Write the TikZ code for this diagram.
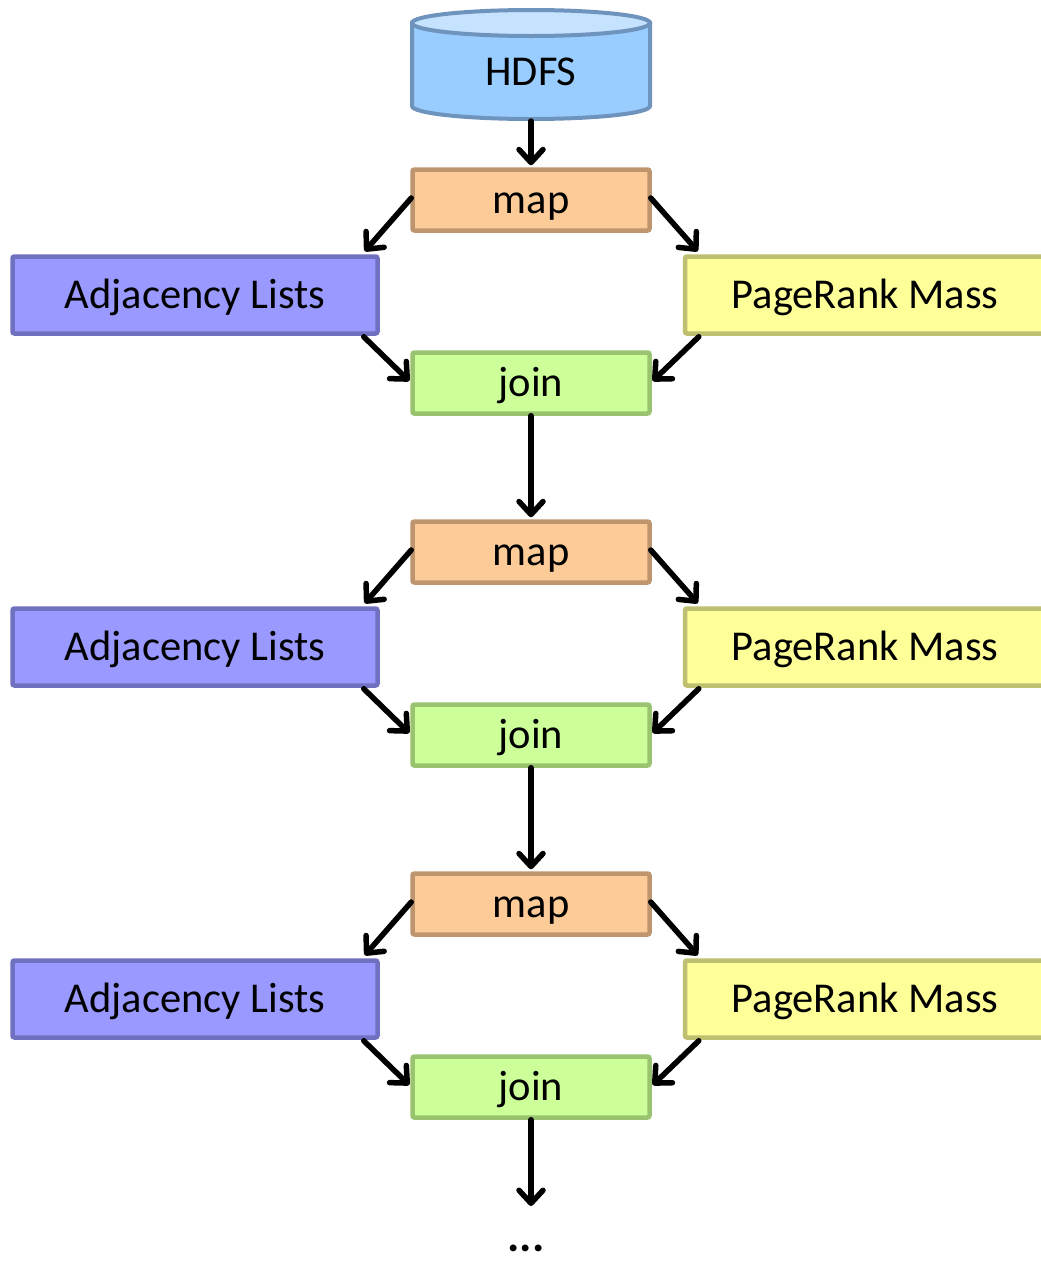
\documentclass[tikz,border=0pt]{standalone}
\usepackage{fontspec}
\setmainfont{Carlito}
\usetikzlibrary{arrows.meta,calc}
\definecolor{mapfill}{HTML}{FCCB97}
\definecolor{mapdraw}{HTML}{BF9570}
\definecolor{adjfill}{HTML}{9999FF}
\definecolor{adjdraw}{HTML}{7070C0}
\definecolor{prfill}{HTML}{FFFF99}
\definecolor{prdraw}{HTML}{BFBF72}
\definecolor{joinfill}{HTML}{CCFF99}
\definecolor{joindraw}{HTML}{99C36E}
\definecolor{dbbody}{HTML}{99CCFF}
\definecolor{dbtop}{HTML}{C5E3FF}
\definecolor{dbdraw}{HTML}{6E93BC}
\begin{document}
\begin{tikzpicture}[x=1pt,y=-1pt,
  lbl/.style={font=\fontsize{42.5}{50}\selectfont, inner sep=0pt, outer sep=0pt,
              text height=32pt, text depth=6pt},
  box/.style={lbl, draw, line width=4.5pt, rounded corners=2pt, outer sep=2.25pt},
  stage/.style={box, minimum width=237pt, minimum height=61pt},
  mapbox/.style={stage, fill=mapfill, draw=mapdraw},
  joinbox/.style={stage, fill=joinfill, draw=joindraw},
  adjbox/.style={box, minimum width=365pt, minimum height=77pt, fill=adjfill, draw=adjdraw},
  prbox/.style={box, minimum width=360pt, minimum height=77pt, fill=prfill, draw=prdraw},
  conn/.style={line width=5.5pt, line cap=round, -{Straight Barb[length=13pt,width=24pt,round]}}
]
\useasboundingbox (0,0) rectangle (1041,1264);

% storage cylinder
\path[fill=dbbody, draw=dbdraw, line width=4pt]
  (412,23) -- (412,106) arc[start angle=180, end angle=360, x radius=119pt, y radius=13pt]
  -- (650,23) -- cycle;
\path[fill=dbtop, draw=dbdraw, line width=4pt] (531,23) ellipse[x radius=119pt, y radius=13pt];
\node[lbl, minimum width=242pt, minimum height=98pt] (hdfs) at (531,72) {HDFS};

% three map / join iterations
\foreach \i in {1,2,3} {
  \pgfmathsetmacro{\yo}{352*(\i-1)}
  \node[mapbox]  (map\i)  at (531,200+\yo) {map};
  \node[adjbox]  (adj\i)  at (195,295+\yo) {Adjacency Lists};
  \node[prbox]   (pr\i)   at (865,295+\yo) {PageRank Mass};
  \node[joinbox] (join\i) at (531,383+\yo) {join};
  \draw[conn] ($(map\i.west)+(1,-2)$) -- ($(adj\i.north east)+(-15,-3)$);
  \draw[conn] ($(map\i.east)+(-1,-2)$) -- ($(pr\i.north west)+(15,-3)$);
  \draw[conn] ($(adj\i.south east)+(-16,1)$) -- ($(join\i.west)+(-1,-2)$);
  \draw[conn] ($(pr\i.south west)+(16,1)$) -- ($(join\i.east)+(1,-2)$);
}

\draw[conn] (hdfs.south) -- ($(map1.north)+(0,-2)$);
\draw[conn] (join1.south) -- ($(map2.north)+(0,-2)$);
\draw[conn] (join2.south) -- ($(map3.north)+(0,-2)$);

\node[font=\bfseries\fontsize{46}{50}\selectfont, inner sep=0pt, text depth=0pt, anchor=base] (more) at (526,1251) {...};
\coordinate (tail) at (531,1206);
\draw[conn] (join3.south) -- (tail);
\end{tikzpicture}
\end{document}
